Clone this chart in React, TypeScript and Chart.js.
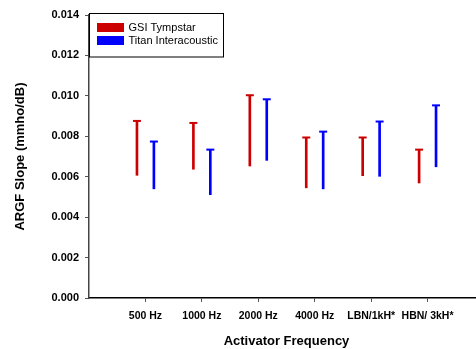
import React, { useEffect, useRef } from "react";
import { Chart, registerables } from "chart.js";

Chart.register(...registerables);

// Activator frequency conditions
const categories = ["500 Hz", "1000 Hz", "2000 Hz", "4000 Hz", "LBN/1kH*", "HBN/ 3kH*"];

// ARGF slope ranges (mmho/dB), low and high ends of each range
const gsiLow = [0.00607, 0.00637, 0.00653, 0.00545, 0.00605, 0.00569];
const gsiHigh = [0.00876, 0.00866, 0.01003, 0.00794, 0.00794, 0.00734];
const titanLow = [0.0054, 0.00511, 0.00681, 0.0054, 0.00602, 0.00649];
const titanHigh = [0.00774, 0.00734, 0.00983, 0.00823, 0.00873, 0.00953];

const seriesNames = ["GSI Tympstar", "Titan Interacoustic"];
const RED = "#cc0000";
const BLUE = "#0000ff";
const FONT = "'Liberation Sans', Arial, Helvetica, sans-serif";
const SHIFT = 0.15;

const rangeData = (lo: number[], hi: number[], shift: number) =>
  lo.map((v, i) => ({ x: i + 1 + shift, y: [v, hi[i]] }));
const capData = (hi: number[], shift: number) =>
  hi.map((v, i) => ({ x: i + 1 + shift, y: v }));

// Boxed legend in the upper-left corner of the plot
const boxLegend = {
  id: "boxLegend",
  afterDraw(chart: any) {
    const { ctx, chartArea } = chart;
    const x0 = chartArea.left;
    const y0 = chartArea.top - 2;
    ctx.save();
    ctx.strokeStyle = "#000";
    ctx.lineWidth = 1;
    ctx.strokeRect(x0 + 0.5, y0 + 0.5, 134, 43.5);
    const colors = [RED, BLUE];
    ctx.font = `11px ${FONT}`;
    ctx.textBaseline = "middle";
    ctx.textAlign = "left";
    seriesNames.forEach((name, i) => {
      const cy = y0 + 14.5 + i * 13;
      ctx.fillStyle = colors[i];
      ctx.fillRect(x0 + 8, cy - 4.5, 27, 9);
      ctx.fillStyle = "#000";
      ctx.fillText(name, x0 + 39.5, cy + 0.5);
    });
    ctx.restore();
  },
};

export default function App() {
  const ref = useRef<HTMLCanvasElement | null>(null);

  useEffect(() => {
    if (!ref.current) return;
    const chart = new Chart(ref.current, {
      type: "bar",
      data: {
        datasets: [
          {
            type: "bar",
            label: seriesNames[0],
            data: rangeData(gsiLow, gsiHigh, -SHIFT) as any,
            backgroundColor: RED,
            barThickness: 2,
            grouped: false,
          },
          {
            type: "bar",
            label: seriesNames[1],
            data: rangeData(titanLow, titanHigh, SHIFT) as any,
            backgroundColor: BLUE,
            barThickness: 2,
            grouped: false,
          },
          {
            type: "scatter",
            label: seriesNames[0] + " cap",
            data: capData(gsiHigh, -SHIFT),
            pointStyle: "line",
            radius: 4,
            borderWidth: 2,
            borderColor: RED,
          },
          {
            type: "scatter",
            label: seriesNames[1] + " cap",
            data: capData(titanHigh, SHIFT),
            pointStyle: "line",
            radius: 4,
            borderWidth: 2,
            borderColor: BLUE,
          },
        ] as any,
      },
      options: {
        responsive: false,
        animation: false,
        layout: { padding: { top: 15, right: 6, left: 0, bottom: 0 } },
        plugins: {
          legend: { display: false },
          tooltip: { enabled: false },
        },
        scales: {
          x: {
            type: "linear",
            min: 0,
            max: 7,
            offset: false,
            afterBuildTicks: (scale: any) => {
              scale.ticks = categories.map((_, i) => ({ value: i + 1 }));
            },
            afterFit: (scale: any) => {
              scale.height = 51;
            },
            ticks: {
              autoSkip: false,
              maxRotation: 0,
              padding: 8,
              color: "#000",
              font: { family: FONT, size: 10.5, weight: "bold" },
              callback: (v: any) => categories[Number(v) - 1] ?? "",
            },
            grid: {
              offset: false,
              drawOnChartArea: false,
              drawTicks: true,
              tickLength: 4,
              color: "#555",
            },
            border: { display: true, color: "#000", width: 1.5 },
            title: {
              display: true,
              text: "Activator Frequency",
              color: "#000",
              font: { family: FONT, size: 13, weight: "bold" },
              padding: { top: 0, bottom: 0 },
            },
          },
          y: {
            min: 0,
            max: 0.014,
            afterFit: (scale: any) => {
              scale.width = 89;
            },
            ticks: {
              stepSize: 0.002,
              padding: 6,
              color: "#000",
              font: { family: FONT, size: 11, weight: "bold" },
              callback: (v: any) => Number(v).toFixed(3),
            },
            grid: {
              drawOnChartArea: false,
              drawTicks: true,
              tickLength: 4,
              color: "#555",
            },
            border: { display: true, color: "#444", width: 1.5 },
            title: {
              display: true,
              text: "ARGF Slope (mmho/dB)",
              color: "#000",
              font: { family: FONT, size: 13, weight: "bold" },
              padding: { top: 13, bottom: 0 },
            },
          },
        },
      } as any,
      plugins: [boxLegend],
    });
    return () => chart.destroy();
  }, []);

  return (
    <div
      style={{
        position: "absolute",
        left: 0,
        top: 0,
        width: 476,
        height: 349,
        overflow: "hidden",
        background: "#fff",
      }}
    >
      <canvas ref={ref} width={490} height={349} style={{ display: "block" }} />
    </div>
  );
}
